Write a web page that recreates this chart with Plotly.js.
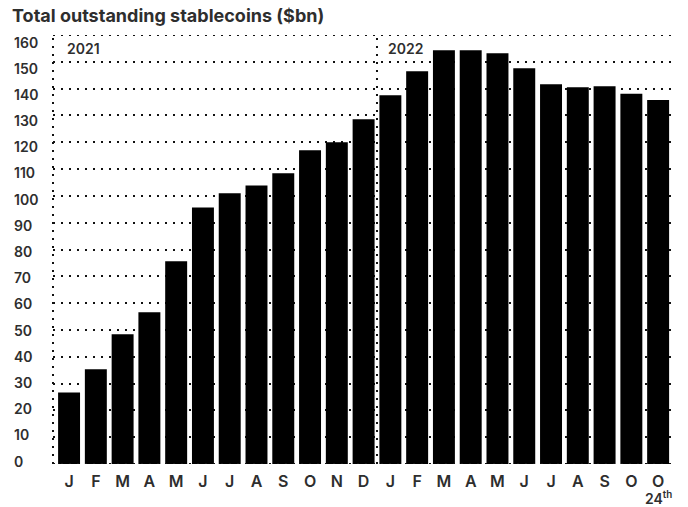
<!DOCTYPE html>
<html>
<head>
<meta charset="utf-8">
<script src="https://cdn.plot.ly/plotly-3.0.1.min.js"></script>
<style>body{margin:0;background:#fff}</style>
</head>
<body>
<div id="chart" style="width:688px;height:507px"></div>
<script>
// month initials, Jan 2021 .. Oct 2022 (last bar is 24th Oct)
const months = ['J','F','M','A','M','J','J','A','S','O','N','D',
                'J','F','M','A','M','J','J','A','S','O','O'];
const stablecoins = [26.7, 35.3, 48.4, 56.6, 75.6, 95.7, 101.0, 103.9, 108.4, 117.0, 120.0, 128.6,
                     137.5, 146.5, 154.3, 154.3, 153.2, 147.6, 141.6, 140.5, 140.9, 138.1, 135.8];
const yearLabels = ['2021', '2022'];
const yearStart = [0, 12];
const yTicks = [0, 10, 20, 30, 40, 50, 60, 70, 80, 90, 100, 110, 120, 130, 140, 150, 160];
const lastNote = '24<sup>th</sup>';

const ink = '#2e2e2e';
const dots = '2px,6px';
const xIdx = months.map((m, i) => i);
const yMax = yTicks[yTicks.length - 1];

const trace = {
    x: xIdx,
    y: stablecoins,
    type: 'bar',
    width: 0.82,
    marker: {color: '#000'},
    hoverinfo: 'none'
};

const annotations = [];

// y labels sit left-aligned at the page edge
yTicks.forEach(v => {
    annotations.push({
        xref: 'paper', yref: 'y', x: 0, y: v,
        xanchor: 'left', yanchor: 'middle', xshift: -41, yshift: 3 - 10 * v / yMax,
        text: String(v), showarrow: false,
        font: {family: 'Inter', size: 14, weight: 600, color: ink}
    });
});

yearLabels.forEach((lab, i) => {
    annotations.push({
        xref: 'x', yref: 'y', x: yearStart[i] - 0.5, y: yMax,
        xanchor: 'left', yanchor: 'middle', xshift: 9, yshift: -13,
        text: lab, showarrow: false,
        font: {family: 'Inter', size: 14, weight: 600, color: ink}
    });
});

annotations.push({
    xref: 'x', yref: 'y', x: months.length - 1, y: 0,
    xanchor: 'center', yanchor: 'middle', yshift: -34,
    text: lastNote, showarrow: false,
    font: {family: 'Inter', size: 14, weight: 600, color: ink}
});

const dotLine = {color: '#111', width: 2, dash: dots};
const shapes = [
    // frame: left, top, bottom
    {type: 'line', xref: 'paper', yref: 'y', x0: 0, x1: 0, y0: 0, y1: yMax, line: dotLine},
    {type: 'line', xref: 'paper', yref: 'y', x0: 0, x1: 1, y0: yMax, y1: yMax, line: dotLine},
    {type: 'line', xref: 'paper', yref: 'y', x0: 0, x1: 1, y0: 0, y1: 0, line: dotLine},
    // year divider
    {type: 'line', xref: 'x', yref: 'y', x0: yearStart[1] - 0.5, x1: yearStart[1] - 0.5, y0: 0, y1: yMax,
     line: dotLine}
];

const layout = {
    width: 688,
    height: 507,
    margin: {l: 53, r: 13, t: 35, b: 43},
    paper_bgcolor: '#fff',
    plot_bgcolor: '#fff',
    showlegend: false,
    title: {
        text: 'Total outstanding stablecoins ($bn)',
        xref: 'container', yref: 'container',
        x: 12 / 688, xanchor: 'left', y: 1 - 16 / 507, yanchor: 'middle',
        font: {family: 'Inter', size: 18, weight: 700, color: ink}
    },
    xaxis: {
        range: [-0.6, 22.63],
        tickvals: xIdx,
        ticktext: months,
        ticks: '',
        showgrid: false,
        zeroline: false,
        showline: false,
        ticklabelstandoff: 6,
        tickfont: {family: 'Inter', size: 16, weight: 600, color: ink}
    },
    yaxis: {
        range: [0, yMax],
        tickvals: yTicks,
        showticklabels: false,
        ticks: '',
        showgrid: true,
        gridcolor: '#111',
        gridwidth: 2,
        griddash: dots,
        zeroline: false,
        showline: false
    },
    annotations: annotations,
    shapes: shapes
};

Plotly.newPlot('chart', [trace], layout, {displayModeBar: false, staticPlot: true});
</script>
</body>
</html>
